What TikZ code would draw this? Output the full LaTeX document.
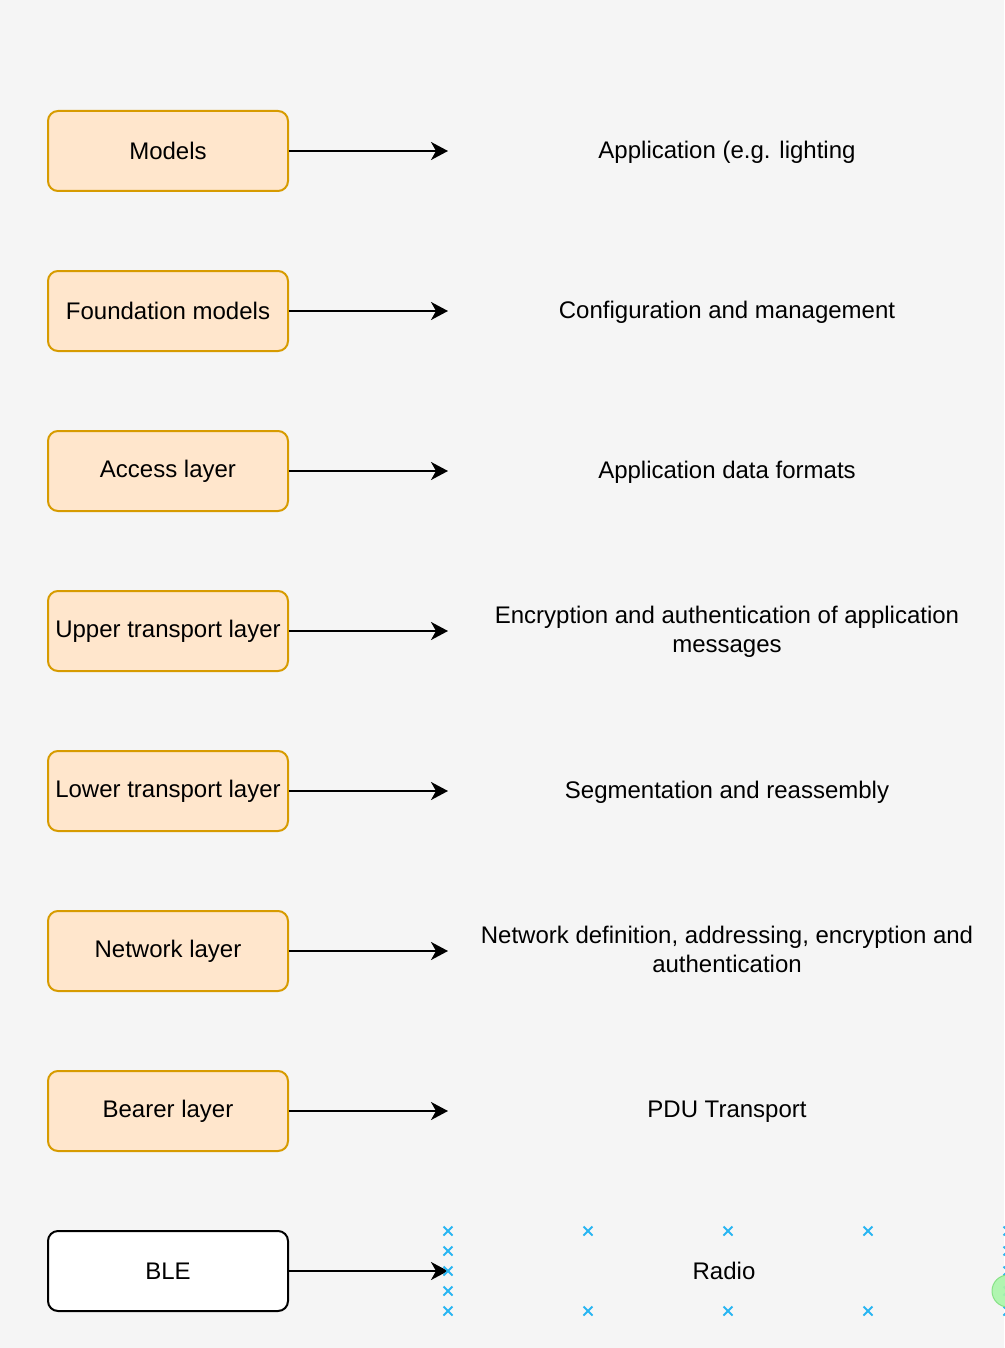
\documentclass[tikz,border=0pt]{standalone}
\usepackage{fontspec}
\setmainfont{Liberation Sans}
\usetikzlibrary{arrows.meta}
\definecolor{bg}{HTML}{F5F5F5}
\definecolor{boxfill}{HTML}{FFE6CC}
\definecolor{boxdraw}{HTML}{D79B00}
\definecolor{handle}{HTML}{29B6F2}
\definecolor{hgreen}{HTML}{A9F5A9}
\definecolor{hgreenb}{HTML}{7FE07F}
\tikzset{
  layerbox/.style={rounded corners=10pt, draw=boxdraw, fill=boxfill, line width=2pt,
    minimum width=240pt, minimum height=80pt, inner sep=0pt,
    font=\fontsize{24pt}{28.8pt}\selectfont},
  blebox/.style={layerbox, draw=black, fill=white},
  desc/.style={align=center, inner sep=0pt, font=\fontsize{24pt}{29pt}\selectfont},
  conn/.style={line width=2pt, -{Stealth[length=17pt,width=18pt,inset=5pt]}},
  hx/.style={handle, line width=2pt},
}
\begin{document}
\begin{tikzpicture}[x=1pt,y=-1pt]
\fill[bg] (0,0) rectangle (1004,1348);
\useasboundingbox (0,0) rectangle (1004,1348);
% boxes
\node[layerbox] (b1) at (168,151) {Models};
\node[layerbox] (b2) at (168,311) {Foundation models};
\node[layerbox] (b3) at (168,471) {Access layer};
\node[layerbox] (b4) at (168,631) {Upper transport layer};
\node[layerbox] (b5) at (168,791) {Lower transport layer};
\node[layerbox] (b6) at (168,951) {Network layer};
\node[layerbox] (b7) at (168,1111) {Bearer layer};
\node[blebox] (b8) at (168,1271) {BLE};
% arrow end points
\coordinate (e1) at (448,151);
\coordinate (e2) at (448,311);
\coordinate (e3) at (448,471);
\coordinate (e4) at (448,631);
\coordinate (e5) at (448,791);
\coordinate (e6) at (448,951);
\coordinate (e7) at (448,1111);
\coordinate (e8) at (448,1271);
\foreach \i in {1,...,8} \draw[conn] (b\i.east) -- (e\i);
% descriptions
\node[desc] (d1) at (727,152) {Application (e.g. lighting};
\node[desc] (d2) at (727,312) {Configuration and management};
\node[desc] (d3) at (727,472) {Application data formats};
\node[desc] (d4) at (727,632) {Encryption and authentication of application\\messages};
\node[desc] (d5) at (727,792) {Segmentation and reassembly};
\node[desc] (d6) at (727,949) {Network definition, addressing, encryption and\\authentication};
\node[desc] (d7) at (727,1112) {PDU Transport};
\node[desc] (d8) at (724,1271) {Radio};
% selection handles
\foreach \x/\y in {448/1231,448/1251,448/1271,448/1291,448/1311,
  588/1231,728/1231,868/1231,588/1311,728/1311,868/1311,
  1008/1231,1008/1251,1008/1271,1008/1291,1008/1311}
  \draw[hx] (\x-4.5,\y-4.5) -- (\x+4.5,\y+4.5) (\x-4.5,\y+4.5) -- (\x+4.5,\y-4.5);
\fill[hgreen, draw=hgreenb, line width=1pt, opacity=0.9] (1008,1291) circle (16);
\end{tikzpicture}
\end{document}
